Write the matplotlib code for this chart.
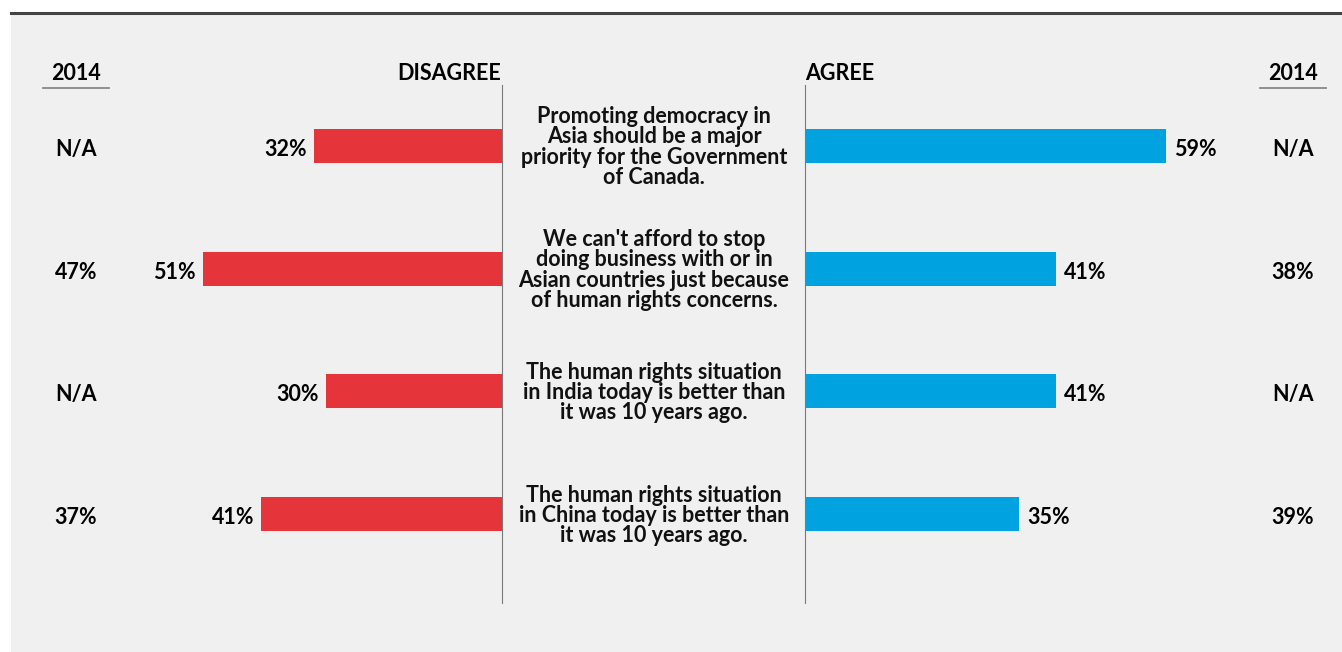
import matplotlib.pyplot as plt
import matplotlib.transforms as mtransforms
from matplotlib.patches import Rectangle
from matplotlib.lines import Line2D

statements = [
    "Promoting democracy in\nAsia should be a major\npriority for the Government\nof Canada.",
    "We can't afford to stop\ndoing business with or in\nAsian countries just because\nof human rights concerns.",
    "The human rights situation\nin India today is better than\nit was 10 years ago.",
    "The human rights situation\nin China today is better than\nit was 10 years ago.",
]
disagree = [32, 51, 30, 41]
agree = [59, 41, 41, 35]
disagree_2014 = ["N/A", "47%", "N/A", "37%"]
agree_2014 = ["N/A", "38%", "N/A", "39%"]

RED = "#e5343a"
BLUE = "#00a3e0"
BG = "#f0f0f0"
W, H = 1342, 652

plt.rcParams['font.family'] = ['Lato', 'DejaVu Sans']
plt.rcParams['font.weight'] = 'bold'

fig = plt.figure(figsize=(W / 100, H / 100), dpi=100)
fig.patch.set_facecolor("white")


def fx(px):
    return px / W


def fy(py):
    return 1 - py / H


# grey panel and dark top rule
fig.patches.append(Rectangle((fx(11), 0), 1, fy(14), transform=fig.transFigure,
                             facecolor=BG, edgecolor="none", zorder=-5))
fig.lines.append(Line2D([fx(11), 1], [fy(13), fy(13)], transform=fig.transFigure,
                        color="#444444", lw=2.2))

top, bot = 85, 603
ax_l = fig.add_axes([fx(150), fy(bot), fx(502 - 150), fy(top) - fy(bot)])
ax_r = fig.add_axes([fx(805), fy(bot), fx(1185 - 805), fy(top) - fy(bot)])

ylim = (3 + (bot - 514) / 123, -(146 - top) / 123)
y = list(range(len(statements)))

ax_l.barh(y, disagree, height=34 / 123, color=RED)
ax_l.set_xlim(352 / 5.87, 0)
ax_r.barh(y, agree, height=34 / 123, color=BLUE)
ax_r.set_xlim(0, 380 / 6.12)

for ax in (ax_l, ax_r):
    ax.set_ylim(*ylim)
    ax.set_facecolor("none")
    ax.set_xticks([])
    ax.set_yticks([])
    for s in ax.spines.values():
        s.set_visible(False)
ax_l.spines["right"].set_visible(True)
ax_r.spines["left"].set_visible(True)
ax_l.spines["right"].set_color("#7a7a7a")
ax_r.spines["left"].set_color("#7a7a7a")

fs = 15.5
dy = 0.028  # nudge labels slightly below bar centre, as in the source
for i in y:
    ax_l.annotate(f"{disagree[i]}%", (disagree[i], i + dy), xytext=(-5, 0),
                  textcoords="offset points", ha="right", va="center", fontsize=fs)
    ax_r.annotate(f"{agree[i]}%", (agree[i], i + dy), xytext=(6, 0),
                  textcoords="offset points", ha="left", va="center", fontsize=fs)

trans = mtransforms.blended_transform_factory(fig.transFigure, ax_l.transData)
for i in y:
    fig.text(fx(76), i + dy, disagree_2014[i], transform=trans, ha="center", va="center", fontsize=fs)
    fig.text(fx(1293), i + dy, agree_2014[i], transform=trans, ha="center", va="center", fontsize=fs)
    fig.text(fx(654), i + 0.01, statements[i], transform=trans, ha="center", va="center",
             fontsize=fs, linespacing=0.96, color="#111111")

# headers
hy = fy(74)
fig.text(fx(501), hy, "DISAGREE", ha="right", va="center", fontsize=fs)
fig.text(fx(805), hy, "AGREE", ha="left", va="center", fontsize=fs)
fig.text(fx(76), hy, "2014", ha="center", va="center", fontsize=fs)
fig.text(fx(1293), hy, "2014", ha="center", va="center", fontsize=fs)
for x0, x1 in [(43, 109), (1260, 1326)]:
    fig.lines.append(Line2D([fx(x0), fx(x1)], [fy(88), fy(88)], transform=fig.transFigure,
                            color="#888888", lw=1.3))

plt.savefig("out.png", dpi=100)
